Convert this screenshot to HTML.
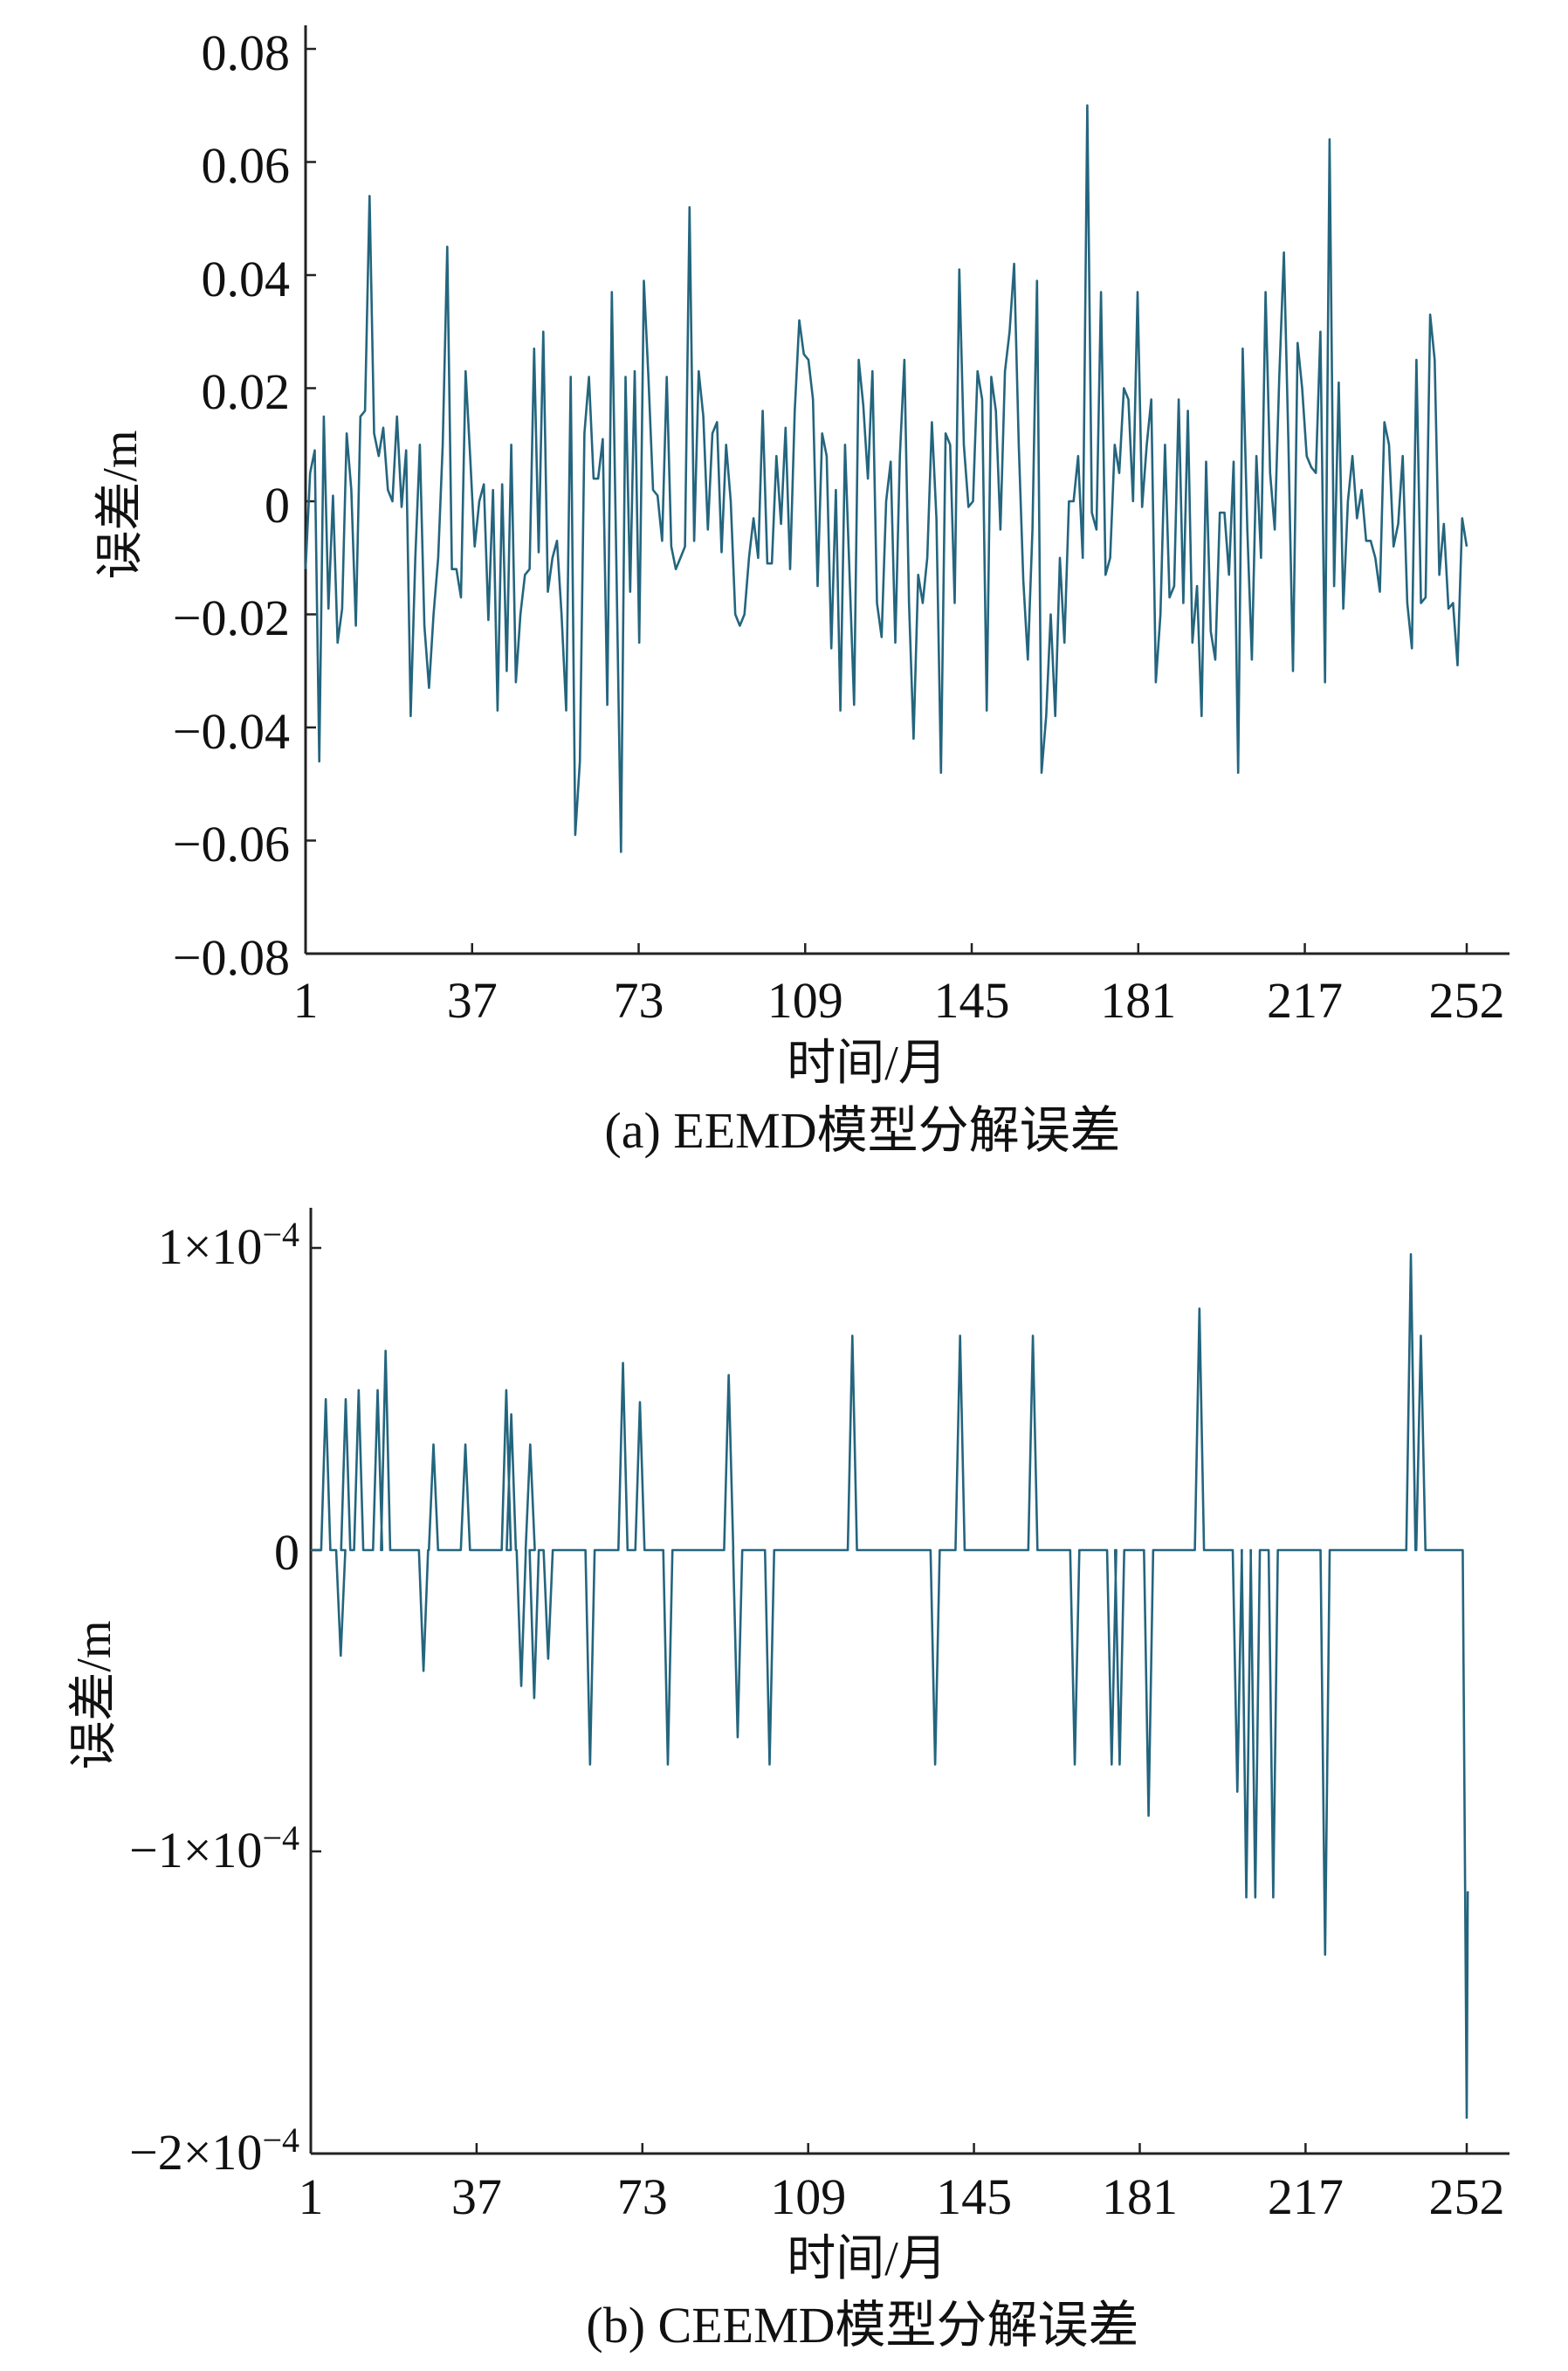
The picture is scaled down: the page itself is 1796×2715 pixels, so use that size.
<!DOCTYPE html>
<html><head><meta charset="utf-8">
<style>
html,body{margin:0;padding:0;background:#fff;}
svg{display:block;}
text{font-family:"Liberation Serif","Noto Serif CJK SC",serif;fill:#111;}
.cjk{font-family:"Liberation Serif","Noto Sans CJK SC",sans-serif;}
</style></head><body>
<svg id="s" width="1796" height="2715" viewBox="0 0 1796 2715" xmlns="http://www.w3.org/2000/svg">
<g stroke="#222" stroke-width="3" fill="none">
<line x1="350" y1="29" x2="350" y2="1092"/>
<line x1="350" y1="1092" x2="1729" y2="1092"/>
<line x1="356" y1="1383" x2="356" y2="2466"/>
<line x1="356" y1="2466" x2="1729" y2="2466"/>
</g>
<g id="ticks" stroke="#222" stroke-width="2.5"></g>
<polyline id="la" fill="none" stroke="#24657e" stroke-width="2.6" stroke-linejoin="round"/>
<polyline id="lb" fill="none" stroke="#24657e" stroke-width="2.6" stroke-linejoin="round"/>
<g font-size="58" text-anchor="end">
<text x="332" y="80">0.08</text>
<text x="332" y="209">0.06</text>
<text x="332" y="339">0.04</text>
<text x="332" y="468">0.02</text>
<text x="332" y="598">0</text>
<text x="332" y="727">−0.02</text>
<text x="332" y="857">−0.04</text>
<text x="332" y="986">−0.06</text>
<text x="332" y="1116">−0.08</text>
</g>
<g font-size="58" text-anchor="end">
<text x="343" y="1447">1×10<tspan font-size="40" dy="-20">−4</tspan></text>
<text x="343" y="1797">0</text>
<text x="343" y="2138">−1×10<tspan font-size="40" dy="-20">−4</tspan></text>
<text x="343" y="2484">−2×10<tspan font-size="40" dy="-20">−4</tspan></text>
</g>
<g id="xl" font-size="58" text-anchor="middle"></g>
<text class="cjk" x="993" y="1236" font-size="56" text-anchor="middle">时间/月</text>
<text class="cjk" x="988" y="1314" font-size="58" text-anchor="middle">(a) EEMD模型分解误差</text>
<text class="cjk" x="993" y="2605" font-size="56" text-anchor="middle">时间/月</text>
<text class="cjk" x="988" y="2682" font-size="58" text-anchor="middle">(b) CEEMD模型分解误差</text>
<text class="cjk" font-size="56" text-anchor="middle" transform="translate(156,578) rotate(-90)">误差/m</text>
<text class="cjk" font-size="56" text-anchor="middle" transform="translate(126,1941) rotate(-90)">误差/m</text>
</svg>
<script>
var NS="http://www.w3.org/2000/svg";
var a=[-0.012,0.005,0.009,-0.046,0.015,-0.019,0.001,-0.025,-0.019,0.012,0.002,-0.022,0.015,0.016,0.054,0.012,0.008,0.013,0.002,0.000,0.015,-0.001,0.009,-0.038,-0.010,0.010,-0.022,-0.033,-0.020,-0.010,0.010,0.045,-0.012,-0.012,-0.017,0.023,0.008,-0.008,0.000,0.003,-0.021,0.002,-0.037,0.003,-0.030,0.010,-0.032,-0.020,-0.013,-0.012,0.027,-0.009,0.030,-0.016,-0.010,-0.007,-0.020,-0.037,0.022,-0.059,-0.046,0.012,0.022,0.004,0.004,0.011,-0.036,0.037,-0.012,-0.062,0.022,-0.016,0.023,-0.025,0.039,0.022,0.002,0.001,-0.007,0.022,-0.008,-0.012,-0.010,-0.008,0.052,-0.007,0.023,0.015,-0.005,0.012,0.014,-0.009,0.010,0.000,-0.020,-0.022,-0.020,-0.010,-0.003,-0.010,0.016,-0.011,-0.011,0.008,-0.004,0.013,-0.012,0.016,0.032,0.026,0.025,0.018,-0.015,0.012,0.008,-0.026,0.002,-0.037,0.010,-0.013,-0.036,0.025,0.017,0.004,0.023,-0.018,-0.024,0.000,0.007,-0.025,0.008,0.025,-0.018,-0.042,-0.013,-0.018,-0.010,0.014,-0.003,-0.048,0.012,0.010,-0.018,0.041,0.010,-0.001,0.000,0.023,0.018,-0.037,0.022,0.016,-0.005,0.023,0.030,0.042,0.010,-0.014,-0.028,-0.005,0.039,-0.048,-0.038,-0.020,-0.038,-0.010,-0.025,0.000,0.000,0.008,-0.010,0.070,-0.002,-0.005,0.037,-0.013,-0.010,0.010,0.005,0.020,0.018,0.000,0.037,-0.001,0.010,0.018,-0.032,-0.020,0.010,-0.017,-0.015,0.018,-0.018,0.016,-0.025,-0.015,-0.038,0.007,-0.023,-0.028,-0.002,-0.002,-0.013,0.007,-0.048,0.027,-0.005,-0.028,0.008,-0.010,0.037,0.005,-0.005,0.022,0.044,0.010,-0.030,0.028,0.020,0.008,0.006,0.005,0.030,-0.032,0.064,-0.015,0.021,-0.019,0.000,0.008,-0.003,0.002,-0.007,-0.007,-0.010,-0.016,0.014,0.010,-0.008,-0.004,0.008,-0.018,-0.026,0.025,-0.018,-0.017,0.033,0.025,-0.013,-0.004,-0.019,-0.018,-0.029,-0.003,-0.008];
var pa=[];for(var i=0;i<a.length;i++){pa.push((350+i*1330/(a.length-1)).toFixed(1)+","+(574-a[i]*6475).toFixed(1));}
document.getElementById("la").setAttribute("points",pa.join(" "));
var sp=[[322,0.5],[337,-0.35],[342,0.5],[355,0.53],[374,0.53],[382,0.66],[420,-0.4],[430,0.35],[462,0.35],[503,0.53],[508,0.45],[518,-0.45],[527,0.35],[531,-0.49],[545,-0.36],[587,-0.71],[620,0.62],[637,0.49],[665,-0.71],[726,0.58],[735,-0.62],[767,-0.71],[850,0.71],[933,-0.71],[958,0.71],[1031,0.71],[1073,-0.71],[1110,-0.71],[1118,-0.71],[1147,-0.88],[1198,0.8],[1236,-0.8],[1245,-1.15],[1254,-1.15],[1272,-1.15],[1324,-1.34],[1410,0.98],[1420,0.71]];
var BEND=1680;
function bx(x){return 356+(x-307)/(1466-307)*(BEND-356);}
function by(v){return 1775-v*345.7;}
var pb=[bx(307)+","+by(0)];
for(var k=0;k<sp.length;k++){var x=sp[k][0],v=sp[k][1];pb.push(bx(x-4.6)+","+by(0));pb.push(bx(x)+","+by(v));pb.push(bx(x+4.6)+","+by(0));}
pb.push(bx(1462)+","+by(0));pb.push(bx(1466)+","+by(-1.88));pb.push(bx(1467)+","+by(-1.13));
document.getElementById("lb").setAttribute("points",pb.join(" "));
var tg=document.getElementById("ticks"),xl=document.getElementById("xl");
function ln(x1,y1,x2,y2){var l=document.createElementNS(NS,"line");l.setAttribute("x1",x1);l.setAttribute("y1",y1);l.setAttribute("x2",x2);l.setAttribute("y2",y2);tg.appendChild(l);}
function tx(x,y,s){var t=document.createElementNS(NS,"text");t.setAttribute("x",x);t.setAttribute("y",y);t.textContent=s;xl.appendChild(t);}
for(var j=0;j<9;j++){var y=56+j*129.5;ln(350,y,362,y);}
[1429,1775,2120,2466].forEach(function(y){ln(356,y,368,y);});
var labs=[1,37,73,109,145,181,217,252];
labs.forEach(function(n){var x=350+(n-1)*1330/251;ln(x,1092,x,1080);tx(x,1165,String(n));
var x2=356+(n-1)*(BEND-356)/251;ln(x2,2466,x2,2454);tx(x2,2535,String(n));});
</script>
</body></html>
